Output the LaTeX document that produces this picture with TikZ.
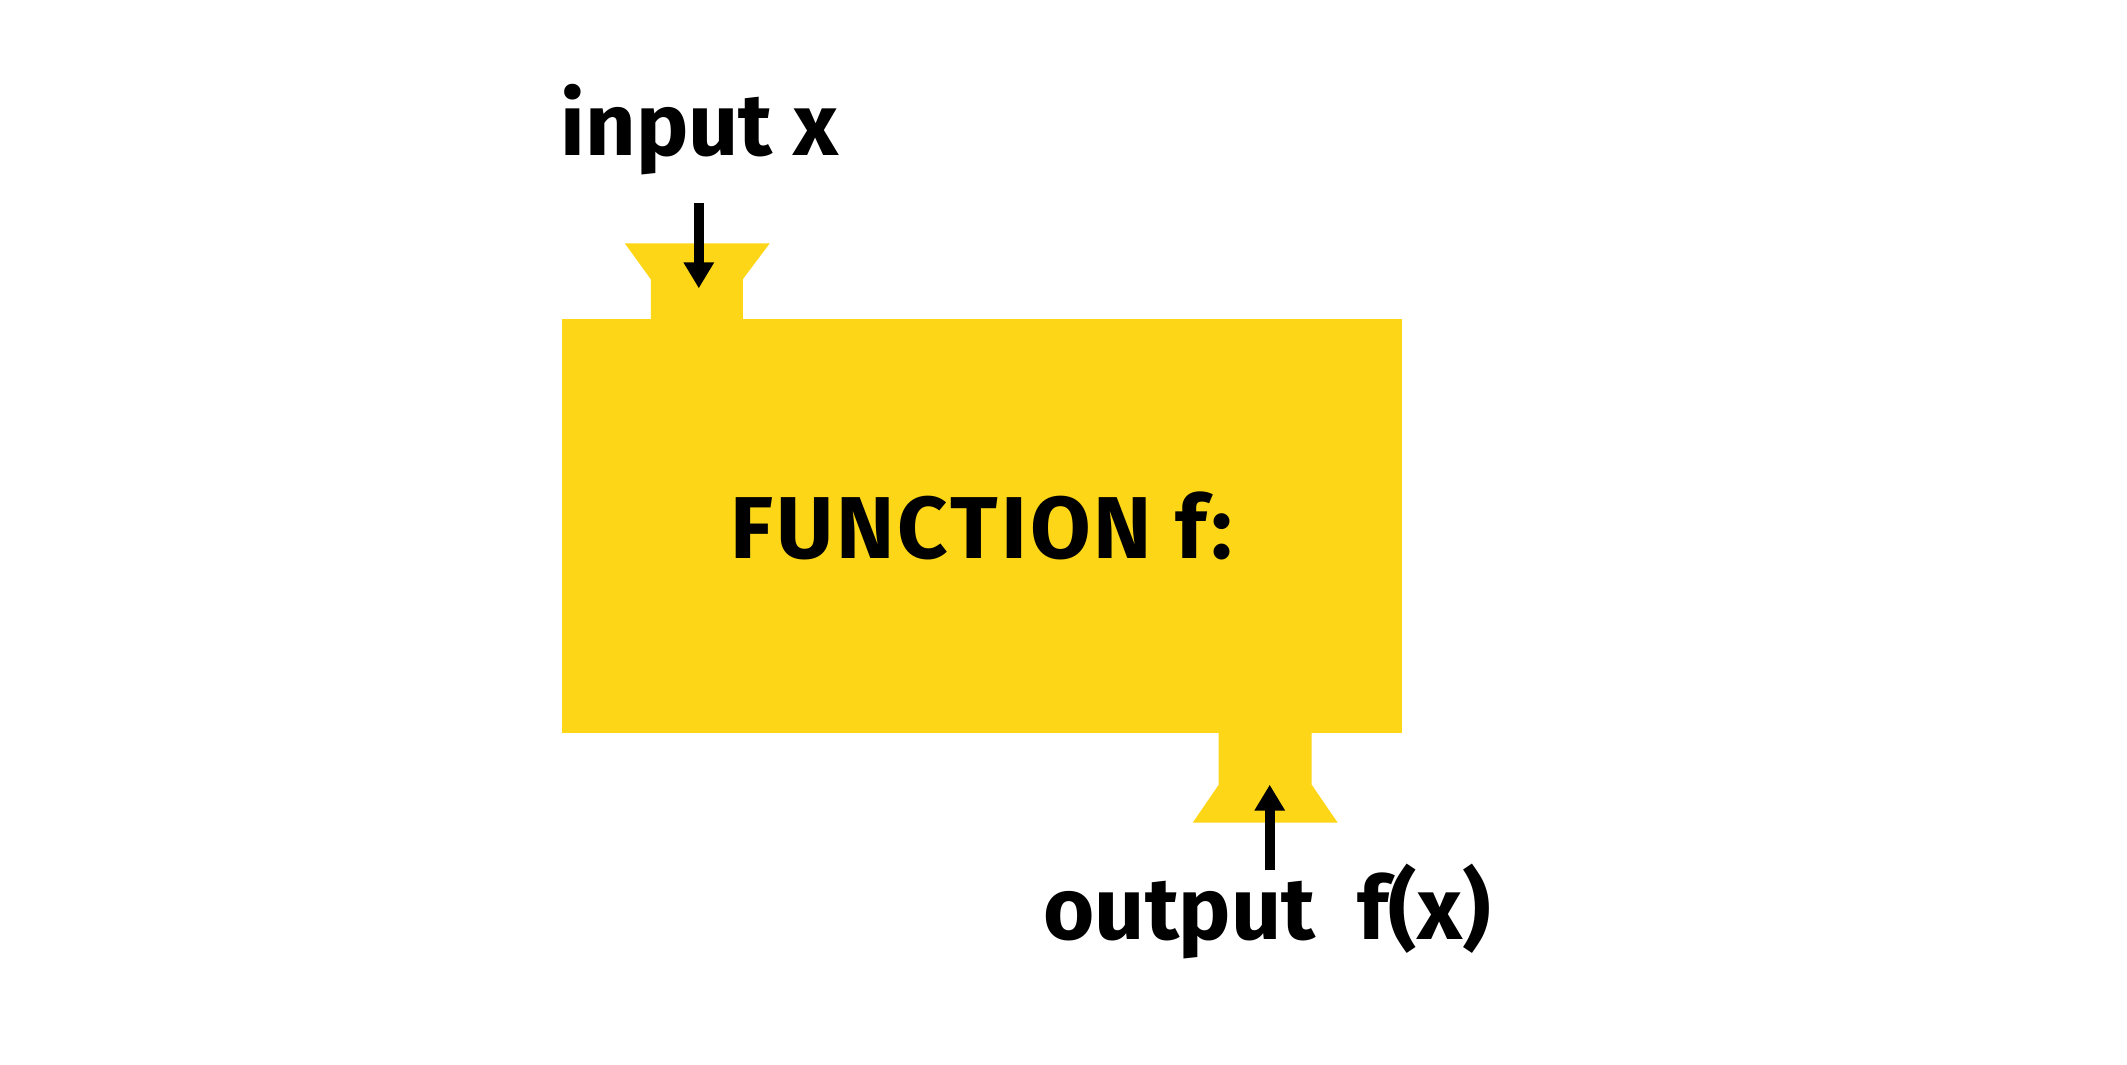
\documentclass[tikz,border=0pt]{standalone}
\usepackage{fontspec}
\setmainfont{Fira Sans}
\usetikzlibrary{arrows.meta,positioning}
\definecolor{funcyellow}{RGB}{252,214,23}

\begin{document}
\begin{tikzpicture}[
    func/.style={
        rectangle,
        fill=funcyellow,
        minimum width=8.4cm,
        minimum height=4.14cm,
        inner sep=0pt,
        font=\bfseries\fontsize{25}{30}\selectfont\addfontfeature{LetterSpace=3.5}
    },
    iolabel/.style={
        inner sep=0pt,
        anchor=base,
        font=\bfseries\fontsize{25}{30}\selectfont
    },
    flow/.style={
        -{Triangle[width=2.9mm,length=2.6mm]},
        line width=0.1cm
    }
]
    \useasboundingbox (0,0) rectangle (21.27,-10.64);

    % The function box
    \node[func] (func) at (9.815,-5.26) {\raisebox{-0.08cm}{FUNCTION f:}};

    % Ports on the box: input on top, output below
    \coordinate (inport) at ([xshift=1.36cm]func.north west);
    \coordinate (outport) at ([xshift=-1.37cm]func.south east);

    % Funnel shaped openings (reaching a little into the box)
    \fill[funcyellow] ([xshift=-0.46cm,yshift=-0.05cm]inport) -- ++(0,0.44) -- ++(-0.26,0.36)
        -- ++(1.45,0) -- ++(-0.27,-0.36) -- ++(0,-0.44) -- cycle;
    \fill[funcyellow] ([xshift=-0.465cm,yshift=0.05cm]outport) -- ++(0,-0.56) -- ++(-0.26,-0.38)
        -- ++(1.45,0) -- ++(-0.26,0.38) -- ++(0,0.56) -- cycle;

    % Labels
    \node[iolabel] (inlabel) at (6.995,-1.55) {input x};
    \node[iolabel] (outlabel) at (12.67,-9.39) {output~~f(x)};

    % Arrows into and out of the box
    \coordinate (intip) at ([xshift=0.02cm,yshift=0.30cm]inport);
    \coordinate (outtip) at ([xshift=0.045cm,yshift=-0.51cm]outport);
    \draw[flow] (intip |- 0,-2.03) -- (intip);
    \draw[flow] (outtip |- 0,-8.70) -- (outtip);

\end{tikzpicture}
\end{document}
